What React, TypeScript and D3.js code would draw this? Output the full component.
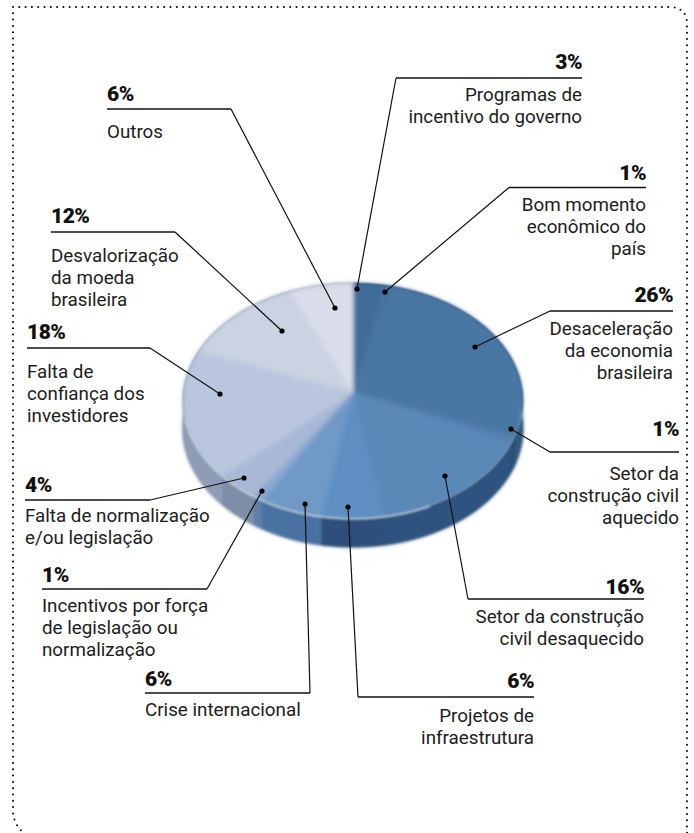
import React from "react";
import * as d3 from "d3";

const W = 694, H = 833;

// Data
const shares = [3, 1, 26, 1, 16, 6, 6, 1, 4, 18, 12, 6];
const captions = [
  ["Programas de", "incentivo do governo"],
  ["Bom momento", "econômico do", "país"],
  ["Desaceleração", "da economia", "brasileira"],
  ["Setor da", "construção civil", "aquecido"],
  ["Setor da construção", "civil desaquecido"],
  ["Projetos de", "infraestrutura"],
  ["Crise internacional"],
  ["Incentivos por força", "de legislação ou", "normalização"],
  ["Falta de normalização", "e/ou legislação"],
  ["Falta de", "confiança dos", "investidores"],
  ["Desvalorização", "da moeda", "brasileira"],
  ["Outros"],
];

// Styles
const topColors = ["#416c98", "#47739f", "#4a77a4", "#5583b3", "#5a88b7", "#5e8fc2", "#7099c8", "#8aa8d2", "#a9b9d5", "#b9c6de", "#cbd3e2", "#d8dde9"];
const sideColors = ["#2f547c", "#2f547c", "#34597f", "#2a4e78", "#2d527f", "#2f4f7b", "#4a72a2", "#5f80a8", "#7f8ea8", "#8e9cb6", "#9aa6bc", "#a4aec2"];

// Annotation layout: rule [y, x0, x1], text anchor, baselines, leader end (dot)
const ruleY = [78, 187.5, 311, 452, 599, 697, 693, 589, 500, 348, 232, 109];
const ruleX = [[396, 582], [509, 646], [550, 673], [550, 679], [468, 644], [358, 534], [145, 310], [42, 207], [25, 150], [27, 150], [51, 175], [107, 231]];
const anchorRight = [true, true, true, true, true, true, false, false, false, false, false, false];
const pctBase = [69, 180, 302, 436, 594, 688, 686, 582, 492, 339, 223, 101];
const firstLine = [101, 211, 335, 480, 623, 722, 716, 612, 522, 378, 262, 138];
const dots = [[357, 289], [385, 292], [475, 347], [511, 429], [445, 476], [348, 507], [305, 504], [262, 491], [244, 478], [220, 394], [282, 331], [335, 308]];
const leaderFrom = [[396, 78], [509, 187.5], [550, 311], [550, 452], [468, 599], [358, 697], [310, 693], [207, 589], [150, 500], [150, 348], [175, 232], [231, 109]];

const cx = 353, cy = 401, rx = 170, ry = 118, depth = 28;
const apex: [number, number] = [353, 392];
const onRim = (a: number, dy = 0): [number, number] => [cx + rx * Math.sin(a), cy + dy - ry * Math.cos(a)];
const arcPts = (a0: number, a1: number, dy = 0): [number, number][] => {
  const n = Math.max(2, Math.ceil((a1 - a0) / 0.02));
  return d3.range(n + 1).map((i) => onRim(a0 + ((a1 - a0) * i) / n, dy));
};
const line = d3.line<[number, number]>();

const slices = d3.pie<number>().sort(null).value((d) => d)(shares);

const FONT = "Roboto, sans-serif";

export default function App() {
  return (
    <svg width={W} height={H} style={{ position: "absolute", left: 0, top: 0, background: "#fff" }} fontFamily={FONT}>
      <defs>
        <filter id="soft" x="-10%" y="-10%" width="120%" height="120%"><feGaussianBlur stdDeviation="2.2" /></filter>
        <filter id="edge" x="-10%" y="-10%" width="120%" height="120%"><feGaussianBlur stdDeviation="0.8" /></filter>
        <filter id="halo" x="-10%" y="-10%" width="120%" height="120%"><feGaussianBlur stdDeviation="2" /></filter>
        <clipPath id="topClip"><ellipse cx={cx} cy={cy} rx={rx} ry={ry} /></clipPath>
      </defs>

      {/* dotted frame */}
      <path d="M13 7 L671 7 Q687 8 687 24 L687 833 M13 7 L13 812 Q14 826 26 835" fill="none" stroke="#000" strokeWidth="2" strokeLinecap="round" strokeDasharray="0 6.3" />

      {/* drop shadow */}
      <path d={(line(arcPts(Math.PI * 0.45, Math.PI * 1.55, depth)) ?? "") + "Z"} fill="#35506f" opacity="0.55" filter="url(#halo)" />
      <ellipse cx={cx} cy={cy} rx={rx + 1} ry={ry + 1} fill="#6d87a6" opacity="0.3" filter="url(#halo)" />

      {/* side wall */}
      <g filter="url(#edge)">
        {slices.map((s, i) => {
          const top = arcPts(s.startAngle, s.endAngle);
          const bottom = arcPts(s.startAngle, s.endAngle, depth).reverse();
          return <path key={i} d={(line([...top, ...bottom]) ?? "") + "Z"} fill={sideColors[i]} stroke={sideColors[i]} strokeWidth="0.6" />;
        })}
      </g>

      {/* top surface */}
      <g clipPath="url(#topClip)">
        <g filter="url(#soft)">
          {slices.map((s, i) => (
            <path key={i} d={(line([apex, ...arcPts(s.startAngle, s.endAngle)]) ?? "") + "Z"} fill={topColors[i]} stroke={topColors[i]} strokeWidth="0.8" />
          ))}
        </g>
      </g>

      {/* rim highlight */}
      <path d={line(arcPts(Math.PI * 0.85, Math.PI * 1.45)) ?? ""} fill="none" stroke="#e6edf7" strokeWidth="1.5" opacity="0.75" filter="url(#edge)" />

      {/* annotations */}
      {shares.map((v, i) => {
        const right = anchorRight[i];
        const x = right ? ruleX[i][1] : ruleX[i][0];
        return (
          <g key={i}>
            <line x1={ruleX[i][0]} x2={ruleX[i][1]} y1={ruleY[i]} y2={ruleY[i]} stroke="#111" strokeWidth="1.3" />
            <line x1={leaderFrom[i][0]} y1={leaderFrom[i][1]} x2={dots[i][0]} y2={dots[i][1]} stroke="#111" strokeWidth="1.2" />
            <circle cx={dots[i][0]} cy={dots[i][1]} r="2.6" fill="#000" />
            <text x={x} y={pctBase[i]} textAnchor={right ? "end" : "start"} fontSize="21" fontWeight="900" fill="#111" letterSpacing="-0.5">{v}%</text>
            {captions[i].map((t, j) => (
              <text key={j} x={x} y={firstLine[i] + j * 22} textAnchor={right ? "end" : "start"} fontSize="18.8" fontWeight="400" fill="#1c1c1c">{t}</text>
            ))}
          </g>
        );
      })}
    </svg>
  );
}
